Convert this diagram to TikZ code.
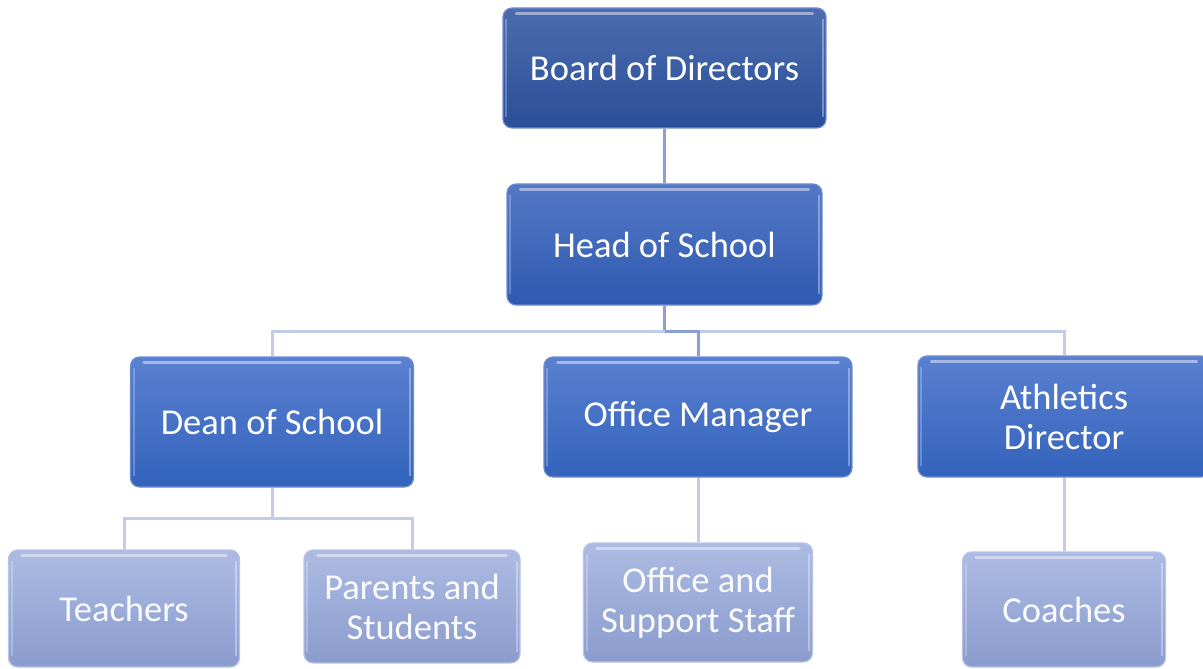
\documentclass[tikz,border=0pt]{standalone}
\usepackage{fontspec}
\setmainfont{Carlito}
\definecolor{bTop}{HTML}{4C6CAE}
\definecolor{bBot}{HTML}{2A4E99}
\definecolor{hTop}{HTML}{5478C6}
\definecolor{hBot}{HTML}{2E5AB0}
\definecolor{mTop}{HTML}{5A80D0}
\definecolor{mBot}{HTML}{3363BC}
\definecolor{lTop}{HTML}{ADBBE3}
\definecolor{lBot}{HTML}{8A9BCD}
\definecolor{dEdge}{HTML}{6F8CD0}
\definecolor{lEdge}{HTML}{B8C4E8}
\definecolor{dLine}{HTML}{8C9FD4}
\definecolor{lLine}{HTML}{C2CBE8}
\tikzset{
  x=1bp, y=-1bp,
  orgbox/.style={rectangle, rounded corners=9bp, line width=1.2bp, align=center,
    inner sep=0pt, font=\fontsize{36.5bp}{40bp}\selectfont},
  lvlzero/.style={orgbox, top color=bTop, bottom color=bBot, draw=dEdge, text=white},
  lvlone/.style={orgbox, top color=hTop, bottom color=hBot, draw=dEdge, text=white},
  lvltwo/.style={orgbox, top color=mTop, bottom color=mBot, draw=dEdge, text=white},
  lvlthree/.style={orgbox, top color=lTop, bottom color=lBot, draw=lEdge, text=white!94!lTop},
  darkline/.style={draw=dLine, line width=3bp},
  lightline/.style={draw=lLine, line width=3bp},
  gloss/.style={white, opacity=0.45, line width=3bp, line cap=round},
}
\begin{document}
\begin{tikzpicture}
\useasboundingbox (0,0) rectangle (1203,669);
\clip (0,0) rectangle (1203,669);
% connectors first
\coordinate (hj) at (664.5,331);
\coordinate (dj) at (272,518);
\node[lvlzero, minimum width=323bp, minimum height=120bp] (board) at (664.5,68) {Board of Directors};
\node[lvlone, minimum width=315bp, minimum height=121bp] (head) at (664.5,244.5) {Head of School};
\node[lvltwo, minimum width=283bp, minimum height=130bp] (dean) at (272,422) {Dean of School};
\node[lvltwo, minimum width=308bp, minimum height=120bp] (om) at (698,417) {Office Manager};
\node[lvltwo, minimum width=292bp, minimum height=121bp] (ath) at (1064,416.5) {Athletics\\Director};
\node[lvlthree, minimum width=231bp, minimum height=117bp] (teach) at (124,608.5) {Teachers};
\node[lvlthree, minimum width=216bp, minimum height=113bp] (par) at (412,606.5) {Parents and\\Students};
\node[lvlthree, minimum width=229bp, minimum height=119bp] (staff) at (698,602.5) {Office and\\Support Staff};
\node[lvlthree, minimum width=203bp, minimum height=115bp] (coach) at (1064,609.5) {Coaches};
% gloss highlights
\foreach \n in {board,head,dean,om,ath,teach,par,staff,coach}{
  \draw[gloss] ([xshift=14bp,yshift=-6bp]\n.north west) -- ([xshift=-14bp,yshift=-6bp]\n.north east);
  \draw[white, opacity=0.35, line width=2bp] ([xshift=-4bp,yshift=-12bp]\n.north east) -- ([xshift=-4bp,yshift=12bp]\n.south east);
  \draw[white, opacity=0.25, line width=2bp] ([xshift=4bp,yshift=-12bp]\n.north west) -- ([xshift=4bp,yshift=12bp]\n.south west);
}
% connectors
\draw[darkline] (board.south) -- (head.north);
\draw[darkline] (head.south) -- (hj);
\draw[lightline] (hj) -| (dean.north);
\draw[lightline] (hj) -| (ath.north);
\draw[darkline] (hj) -| (om.north);
\draw[lightline] (dean.south) -- (dj);
\draw[lightline] (dj) -| (teach.north);
\draw[lightline] (dj) -| (par.north);
\draw[lightline] (om.south) -- (staff.north);
\draw[lightline] (ath.south) -- (coach.north);
\end{tikzpicture}
\end{document}
